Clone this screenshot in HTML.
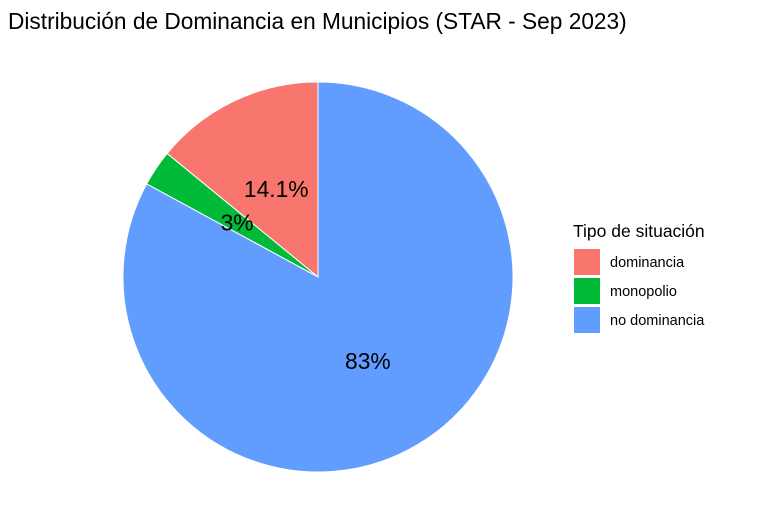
<!DOCTYPE html>
<html>
<head>
<meta charset="utf-8">
<style>
html,body{margin:0;padding:0;background:#fff;}
svg{display:block;font-family:"Liberation Sans",Arial,sans-serif;}
</style>
</head>
<body>
<svg id="chart" width="783" height="522" viewBox="0 0 783 522">
  <rect width="783" height="522" fill="#fff"/>
  <text x="8" y="29" font-size="22.7" fill="#000">Distribución de Dominancia en Municipios (STAR - Sep 2023)</text>
  <g id="slices"></g>
  <g id="labels"></g>
  <g id="legend">
    <text x="573" y="237" font-size="17.5" fill="#000">Tipo de situación</text>
  </g>
</svg>
<script>
const categories = ["dominancia", "monopolio", "no dominancia"];
const values = [14.1, 3, 83];
const labelsText = ["14.1%", "3%", "83%"];
const colors = ["#F8766D", "#00BA38", "#619CFF"];

const NS = "http://www.w3.org/2000/svg";
const cx = 318, cy = 277, R = 195;
const total = values.reduce((a, b) => a + b, 0);
function pt(frac, r) {
  const a = frac * 2 * Math.PI;
  return [cx - r * Math.sin(a), cy - r * Math.cos(a)];
}
const sg = document.getElementById("slices");
const lg = document.getElementById("labels");
const leg = document.getElementById("legend");
let cum = 0;
values.forEach((v, i) => {
  const f0 = cum / total, f1 = (cum + v) / total;
  const [x0, y0] = pt(f0, R), [x1, y1] = pt(f1, R);
  const large = (f1 - f0) > 0.5 ? 1 : 0;
  const p = document.createElementNS(NS, "path");
  p.setAttribute("d", `M${cx},${cy} L${x0},${y0} A${R},${R} 0 ${large} 0 ${x1},${y1} Z`);
  p.setAttribute("fill", colors[i]);
  p.setAttribute("stroke", "#fff");
  p.setAttribute("stroke-width", "1");
  
  
  sg.appendChild(p);
  const [lx, ly] = pt((f0 + f1) / 2, R / 2);
  const t = document.createElementNS(NS, "text");
  t.setAttribute("x", lx);
  t.setAttribute("y", ly + 8);
  t.setAttribute("text-anchor", "middle");
  t.setAttribute("font-size", "22.8");
  t.textContent = labelsText[i];
  
  
  lg.appendChild(t);
  cum += v;

  const ky = 249 + i * 29;
  const r = document.createElementNS(NS, "rect");
  r.setAttribute("x", 574); r.setAttribute("y", ky);
  r.setAttribute("width", 26); r.setAttribute("height", 26);
  r.setAttribute("fill", colors[i]);
  
  
  leg.appendChild(r);
  const lt = document.createElementNS(NS, "text");
  lt.setAttribute("x", 610); lt.setAttribute("y", ky + 18);
  lt.setAttribute("font-size", "14.5");
  lt.textContent = categories[i];
  
  
  leg.appendChild(lt);
});
</script>
</body>
</html>
